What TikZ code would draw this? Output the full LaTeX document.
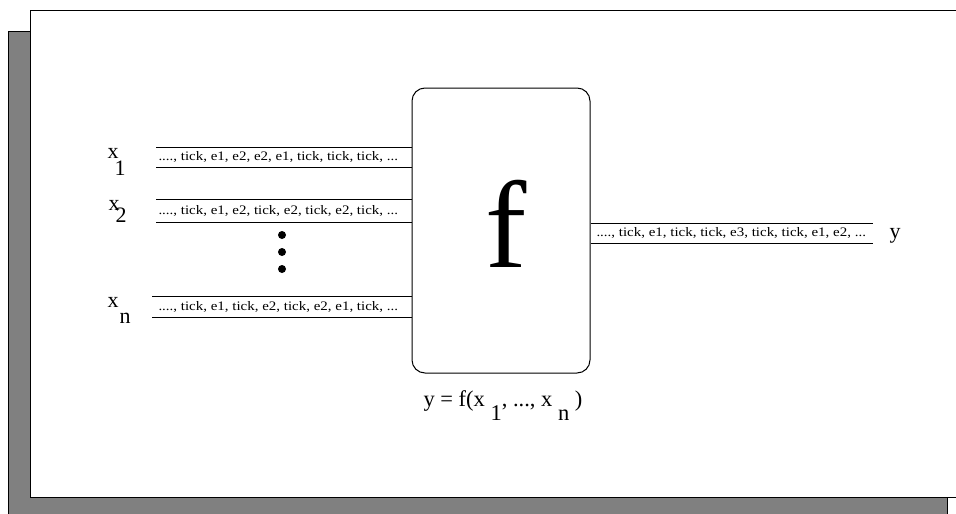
\documentclass[tikz,border=0pt]{standalone}
\usepackage{fontspec}
\setmainfont{Liberation Serif}
\usepackage{graphicx}
\definecolor{shadowgray}{HTML}{808080}
\begin{document}
\begin{tikzpicture}[x=1pt,y=-1pt,line width=1pt,
  stream/.style={font=\fontsize{13}{13}\selectfont, anchor=west, inner sep=0pt},
  lbl/.style={font=\fontsize{22}{22}\selectfont, anchor=base west, inner sep=0pt},
  wire/.style={line width=1pt},
  dotmark/.style={circle, fill=black, inner sep=0pt, minimum size=8pt}]
\useasboundingbox (0,0) rectangle (956,514);
\begin{scope}
  \clip (0,0) rectangle (956,514);
  \draw[fill=shadowgray] (8,31) rectangle (947,540);
  \draw[fill=white] (30,10) rectangle (975,497);
\end{scope}

% function box
\node[draw, rounded corners=13pt, minimum width=178pt, minimum height=285pt, inner sep=0pt] (fbox) at (501,230.5) {};
\node[anchor=base west, inner sep=0pt, font=\fontsize{124}{124}\selectfont] (fsym) at (485,267) {f};

% input wires
\coordinate (a1) at (156,147); \coordinate (b1) at (156,167);
\coordinate (a2) at (156,199); \coordinate (b2) at (156,222);
\coordinate (an) at (152,296); \coordinate (bn) at (152,317);
\draw[wire] (a1) -- (a1 -| fbox.west);
\draw[wire] (b1) -- (b1 -| fbox.west);
\draw[wire] (a2) -- (a2 -| fbox.west);
\draw[wire] (b2) -- (b2 -| fbox.west);
\draw[wire] (an) -- (an -| fbox.west);
\draw[wire] (bn) -- (bn -| fbox.west);

% output wires
\coordinate (ao) at (873,223); \coordinate (bo) at (873,243);
\draw[wire] (ao -| fbox.east) -- (ao);
\draw[wire] (bo -| fbox.east) -- (bo);

% stream texts
\node[stream] (s1) at (158,157) {\scalebox{1.15}[1]{...., tick, e1, e2, e2, e1, tick, tick, tick, ...}};
\node[stream] (s2) at (158,210.5) {\scalebox{1.15}[1]{...., tick, e1, e2, tick, e2, tick, e2, tick, ...}};
\node[stream] (sn) at (158,306.5) {\scalebox{1.15}[1]{...., tick, e1, tick, e2, tick, e2, e1, tick, ...}};
\node[stream] (so) at (596,233) {\scalebox{1.15}[1]{...., tick, e1, tick, tick, e3, tick, tick, e1, e2, ...}};

% dots
\node[dotmark] (d1) at (282,235) {};
\node[dotmark] (d2) at (282,252) {};
\node[dotmark] (d3) at (282,269) {};

% labels
\node[lbl] (x1) at (107,158) {x\kern-4pt\raisebox{-17pt}{1}};
\node[lbl] (x2) at (108,210) {x\kern-4pt\raisebox{-12pt}{2}};
\node[lbl] (xn) at (107,307) {x\kern1pt\raisebox{-16pt}{n}};
\node[lbl] (y) at (889,238) {y};
\node[lbl, font=\fontsize{22.5}{22.5}\selectfont] (eq) at (423,406) {y = f(x \raisebox{-14pt}{1}, ..., x \raisebox{-14pt}{n} )};
\end{tikzpicture}
\end{document}
